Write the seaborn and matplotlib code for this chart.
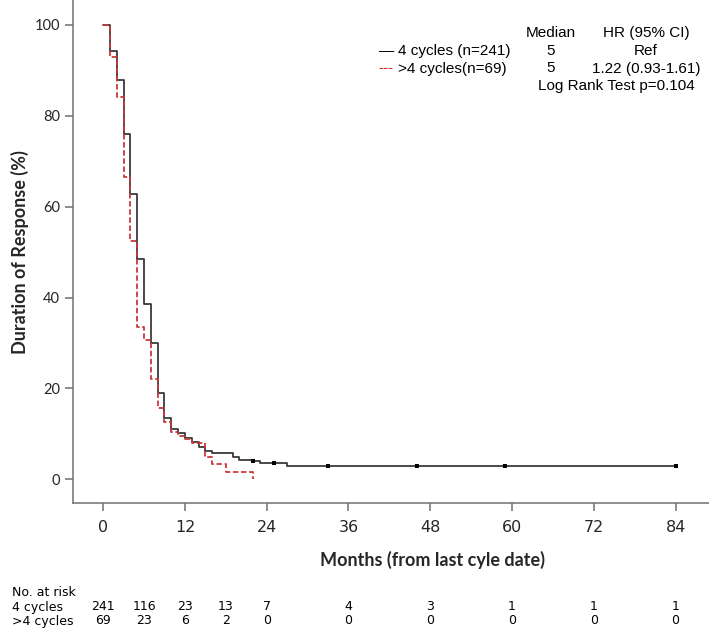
import numpy as np
import pandas as pd
import matplotlib
matplotlib.use("Agg")
import matplotlib.pyplot as plt
import matplotlib.transforms as mtransforms
import seaborn as sns

# ---------------- data ----------------
t_4 = [0, 1, 2, 3, 4, 5, 6, 7, 8, 9, 10, 11, 12, 13, 14, 15, 16, 19, 20, 22, 23, 27, 84]
s_4 = [100, 94.2, 88.0, 76.0, 62.8, 48.4, 38.7, 30.1, 18.9, 13.6, 11.0, 10.1, 9.2, 8.2,
       7.1, 6.2, 5.7, 4.9, 4.3, 4.0, 3.6, 2.9, 2.9]
t_gt4 = [0, 1, 2, 3, 4, 5, 6, 7, 8, 9, 10, 11, 12, 13, 15, 16, 18, 22]
s_gt4 = [100, 92.9, 84.1, 66.6, 52.4, 33.5, 30.6, 22.0, 15.7, 12.6, 10.4, 9.6, 8.8, 8.0,
         4.9, 3.4, 1.7, 0.0]
censor_4 = [22, 25, 33, 46, 59, 84]

xticks = [0, 12, 24, 36, 48, 60, 72, 84]
yticks = [0, 20, 40, 60, 80, 100]

risk_times = [0, 6, 12, 18, 24, 36, 48, 60, 72, 84]
risk_4 = [241, 116, 23, 13, 7, 4, 3, 1, 1, 1]
risk_gt4 = [69, 23, 6, 2, 0, 0, 0, 0, 0, 0]

legend_rows = ["4 cycles (n=241)", ">4 cycles(n=69)"]
medians = ["5", "5"]
hrs = ["Ref", "1.22 (0.93-1.61)"]
logrank = "Log Rank Test p=0.104"

# ---------------- figure ----------------
sns.set_style("white")
W, H = 709, 629
fig = plt.figure(figsize=(W / 100, H / 100), dpi=100)
ax = fig.add_axes([72.5 / W, 1 - 503 / H, (W - 72.5) / W + 0.02, 503 / H])

BLACK = "#3a3a3a"
RED = "#c8373a"

sns.lineplot(x=t_4, y=s_4, drawstyle="steps-post", color=BLACK, lw=1.3, ax=ax,
             estimator=None, sort=False)
sns.lineplot(x=t_gt4, y=s_gt4, drawstyle="steps-post", color=RED, lw=1.3, ax=ax,
             estimator=None, sort=False, linestyle=(0, (3, 1.5)))

# censor marks (values looked up from the step function)
tt = np.array(t_4)
ss = np.array(s_4)
cy = [ss[np.searchsorted(tt, c, side="right") - 1] for c in censor_4]
sns.scatterplot(x=censor_4, y=cy, marker="s", s=5, color="#000000", linewidth=0, ax=ax,
                zorder=5)

# 0 -> 103.2 px, 84 -> ~676 px
ax.set_xlim(-4.5, 88.9 + 0.02 * W / 6.815)
ax.set_ylim(-5.2, 105.5)
ax.set_xticks(xticks)
ax.set_yticks(yticks)
ax.set_xticklabels([str(v) for v in xticks], family="Liberation Sans Narrow", fontsize=11.5)
ax.set_yticklabels([str(v) for v in yticks], family="Lato", fontsize=10.5)
for s in ["top", "right"]:
    ax.spines[s].set_visible(False)
for s in ["left", "bottom"]:
    ax.spines[s].set_color("#707070")
    ax.spines[s].set_linewidth(1.1)
ax.tick_params(axis="both", direction="out", length=6, width=1.1, color="#707070",
               bottom=True, left=True)
ax.tick_params(axis="x", pad=6)
ax.tick_params(axis="y", pad=3)
ax.set_xlabel("")
ax.set_ylabel("")

# axis titles
fig.text(20 / W, 1 - 252 / H, "Duration of Response (%)", rotation=90, ha="center",
         va="center", family="Lato", fontweight="bold", fontsize=13)
fig.text(432 / W, 1 - 560 / H, "Months (from last cyle date)", ha="center", va="center",
         family="Lato", fontweight="bold", fontsize=13)

# legend / annotation block
lf = dict(family="Liberation Sans", fontsize=11, color="black", va="center")
fig.text(551 / W, 1 - 33 / H, "Median", ha="center", **lf)
fig.text(646 / W, 1 - 33 / H, "HR (95% CI)", ha="center", **lf)
row_y = [51, 68.5]
for i, (lab, med, hr) in enumerate(zip(legend_rows, medians, hrs)):
    y = 1 - row_y[i] / H
    if i == 0:
        fig.text(379 / W, y, "\u2014", ha="left", **lf)
    else:
        fig.text(378 / W, y, "---", ha="left", **{**lf, "color": "#e0201e"})
    fig.text(398 / W, y, lab, ha="left", **lf)
    fig.text(551 / W, y, med, ha="center", **lf)
    fig.text(646 / W, y, hr, ha="center", **lf)
fig.text(616 / W, 1 - 86 / H, logrank, ha="center", **lf)

# number at risk table
rf = dict(family="Liberation Sans Narrow", fontsize=9, color="black", va="center")
trans = mtransforms.blended_transform_factory(ax.transData, fig.transFigure)
fig.text(12 / W, 1 - 592 / H, "No. at risk", ha="left", **rf)
fig.text(12 / W, 1 - 607 / H, "4 cycles", ha="left", **rf)
fig.text(12 / W, 1 - 621 / H, ">4 cycles", ha="left", **rf)
for t, a, b in zip(risk_times, risk_4, risk_gt4):
    ax.text(t, 1 - 607 / H, str(a), ha="center", transform=trans, clip_on=False, **rf)
    ax.text(t, 1 - 621 / H, str(b), ha="center", transform=trans, clip_on=False, **rf)

fig.savefig("out.png", dpi=100)
